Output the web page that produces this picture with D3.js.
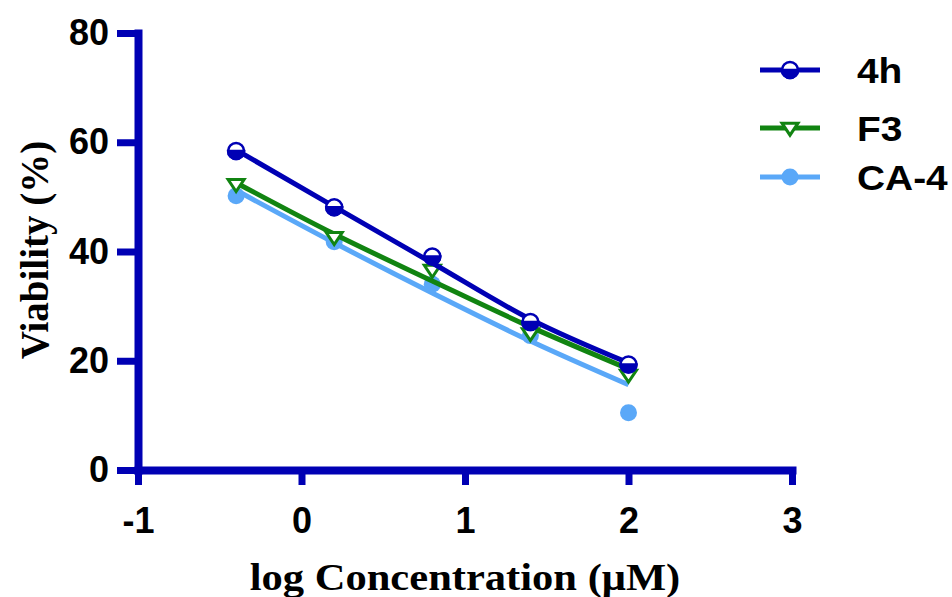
<!DOCTYPE html>
<html>
<head>
<meta charset="utf-8">
<script src="https://cdn.jsdelivr.net/npm/d3@7"></script>
<style>
  body { margin: 0; background: #fff; }
  svg { display: block; }
  .tick text { font-family: 'Liberation Sans', Arial, sans-serif; font-weight: bold; font-size: 36px; fill: #000; }
  .title { font-family: 'Liberation Serif', 'Times New Roman', serif; font-weight: bold; font-size: 38px; fill: #000; }
  .legend text { font-family: 'Liberation Sans', Arial, sans-serif; font-weight: bold; font-size: 36px; fill: #000; }
</style>
</head>
<body>
<div id="root"></div>
<script>
const width = 952;
const height = 597;

// log concentration values
const logConc = [-0.4, 0.2, 0.8, 1.4, 2.0];

// measured viability (%)
const data4h = [58.4, 48.1, 39.1, 27.1, 19.3];
const dataF3 = [52.3, 42.6, 36.6, 25.0, 17.4];
const dataCA4 = [50.2, 41.8, 34.0, 24.6, 10.5];

// fitted curve values read at the same concentrations
const fit4h = [58.6, 48.2, 37.9, 27.6, 19.6];
const fitF3 = [52.6, 43.2, 34.6, 26.2, 18.5];
const fitCA4 = [51.2, 41.6, 32.4, 23.6, 15.6];

const xTicks = [-1, 0, 1, 2, 3];
const yTicks = [0, 20, 40, 60, 80];

const seriesNames = ['4h', 'F3', 'CA-4'];
const colors = { '4h': '#0000b4', 'F3': '#118411', 'CA-4': '#5aa8f8' };
const axisColor = '#0000b4';

const series = [
  { name: 'CA-4', values: dataCA4, fit: fitCA4 },
  { name: 'F3', values: dataF3, fit: fitF3 },
  { name: '4h', values: data4h, fit: fit4h }
];

const svg = d3.select('#root')
  .append('svg')
  .attr('width', width)
  .attr('height', height);

const xScale = d3.scaleLinear().domain([-1, 3]).range([138, 792]);
const yScale = d3.scaleLinear().domain([0, 80]).range([470, 33]);

// axes
const xAxis = d3.axisBottom(xScale)
  .tickValues(xTicks)
  .tickSize(15)
  .tickSizeOuter(0)
  .tickPadding(22)
  .tickFormat(d => String(d));

const yAxis = d3.axisLeft(yScale)
  .tickValues(yTicks)
  .tickSize(17)
  .tickSizeOuter(0)
  .tickFormat(d => String(d));

const gx = svg.append('g')
  .attr('transform', `translate(0, ${yScale(0)})`)
  .call(xAxis);

const gy = svg.append('g')
  .attr('transform', `translate(${xScale(-1)}, 0)`)
  .call(yAxis);

[gx, gy].forEach(g => {
  g.select('.domain')
    .attr('stroke', axisColor)
    .attr('stroke-width', 8)
    .attr('stroke-linecap', 'square');
  g.selectAll('.tick line')
    .attr('stroke', axisColor)
    .attr('stroke-width', 7);
});
gy.selectAll('.tick line').attr('x2', -21);
gy.selectAll('.tick text').attr('x', -29);
gx.selectAll('.tick text').attr('dy', '0.71em');

// titles
svg.append('text')
  .attr('class', 'title')
  .attr('transform', 'translate(465, 590) scale(1.12, 1)')
  .attr('text-anchor', 'middle')
  .text('log Concentration (\u03BCM)');

svg.append('text')
  .attr('class', 'title')
  .attr('transform', 'translate(48, 250) rotate(-90)')
  .attr('text-anchor', 'middle')
  .style('font-size', '39px')
  .text('Viability (%)');

// fitted curves
const line = d3.line()
  .x((d, i) => xScale(logConc[i]))
  .y(d => yScale(d))
  .curve(d3.curveMonotoneX);

function drawMarker(g, name, cx, cy) {
  const c = colors[name];
  if (name === '4h') {
    const r = 8;
    g.append('circle')
      .attr('cx', cx).attr('cy', cy).attr('r', r)
      .attr('fill', '#fff')
      .attr('stroke', c).attr('stroke-width', 2.5);
    g.append('path')
      .attr('d', `M${cx - r},${cy} A${r},${r} 0 0,0 ${cx + r},${cy} Z`)
      .attr('fill', c)
      .attr('stroke', c).attr('stroke-width', 2.5);
  } else if (name === 'F3') {
    const s = 8;
    g.append('path')
      .attr('d', `M${cx - s},${cy - s * 0.6} L${cx + s},${cy - s * 0.6} L${cx},${cy + s * 0.9} Z`)
      .attr('fill', '#fff')
      .attr('stroke', c).attr('stroke-width', 3)
      .attr('stroke-linejoin', 'miter');
  } else {
    g.append('circle')
      .attr('cx', cx).attr('cy', cy).attr('r', 8.5)
      .attr('fill', c);
  }
}

series.forEach(s => {
  const g = svg.append('g');
  g.append('path')
    .datum(s.fit)
    .attr('d', line)
    .attr('fill', 'none')
    .attr('stroke', colors[s.name])
    .attr('stroke-width', 5);
  s.values.forEach((v, i) => {
    drawMarker(g, s.name, xScale(logConc[i]), yScale(v));
  });
});

// legend
const legendY = [70, 128, 177];
const legend = svg.append('g').attr('class', 'legend');
seriesNames.forEach((name, i) => {
  const y = legendY[i];
  legend.append('line')
    .attr('x1', 760).attr('x2', 820)
    .attr('y1', y).attr('y2', y)
    .attr('stroke', colors[name])
    .attr('stroke-width', 5);
  drawMarker(legend, name, 790, y);
  legend.append('text')
    .attr('transform', `translate(857, ${y + 13}) scale(1.08, 1)`)
    .text(name);
});
</script>
</body>
</html>
